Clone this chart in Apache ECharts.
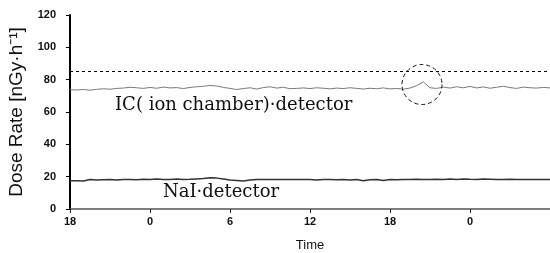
<!DOCTYPE html>
<html>
<head>
<meta charset="utf-8">
<script src="https://cdn.jsdelivr.net/npm/echarts@6/dist/echarts.min.js"></script>
<style>
  html, body { margin: 0; padding: 0; background: #fff; }
  #chart { width: 550px; height: 253px; }
</style>
</head>
<body>
<div id="chart"></div>
<script>
// hours since 18:00 on day 1, one reading every half hour
var hours = [];
for (var i = 0; i <= 72; i++) hours.push(i * 0.5);

var icRate = [
  73.8, 73.6, 73.9, 73.5, 74.0, 74.4, 74.1, 74.6, 74.8, 75.3,
  75.0, 74.6, 75.2, 74.7, 75.4, 74.9, 75.1, 74.5, 75.2, 75.6,
  75.9, 76.4, 76.1, 75.2, 74.6, 73.9, 74.5, 75.0, 74.2, 75.1,
  75.6, 74.8, 75.3, 74.4, 74.6, 74.9, 74.5, 75.0, 74.7, 74.3,
  74.8, 74.5, 75.0, 74.6, 74.2, 74.7, 74.4, 74.9, 74.3, 74.6,
  74.1, 74.8, 76.3, 78.6, 75.0, 74.6, 75.4, 74.8, 75.6, 75.0,
  75.8, 74.9, 75.5, 74.7, 75.3, 75.9, 75.1, 74.6, 75.4, 75.0,
  74.8, 75.2, 74.9
];

var naiRate = [
  17.4, 17.5, 17.3, 18.3, 17.9, 18.1, 18.2, 18.0, 18.3, 18.2,
  18.1, 18.4, 18.2, 18.6, 18.3, 18.2, 18.5, 18.3, 18.4, 18.6,
  18.8, 19.4, 19.1, 18.5, 17.9, 17.7, 17.3, 17.9, 18.2, 18.3,
  18.3, 18.3, 18.2, 18.3, 18.3, 18.2, 18.2, 18.0, 18.3, 18.2,
  18.1, 18.3, 17.9, 18.2, 17.5, 18.1, 18.2, 17.6, 18.2, 18.1,
  18.3, 18.2, 18.4, 18.3, 18.2, 18.4, 18.3, 18.5, 18.2, 18.6,
  18.4, 18.3, 18.5, 18.4, 18.3, 18.2, 18.4, 18.3, 18.2, 18.3,
  18.2, 18.3, 18.3
];

var thresholdLevel = 85;
var peakMark = [26.4, 77];   // circled spike on the IC trace
var startHour = 18;

function pairs(ys) {
  return hours.map(function (h, k) { return [h, ys[k]]; });
}

var chart = echarts.init(document.getElementById("chart"));
chart.setOption({
  animation: false,
  grid: { left: 70, right: 0, top: 15, bottom: 44, outerBoundsMode: "none" },
  xAxis: {
    type: "value",
    min: 0,
    max: 36,
    interval: 6,
    name: "Time",
    nameLocation: "middle",
    nameGap: 30,
    nameTextStyle: { color: "#111", fontSize: 13, fontFamily: "Liberation Sans" },
    axisLine: { lineStyle: { color: "#555", width: 1.5 } },
    axisTick: { length: 4, lineStyle: { color: "#222" } },
    axisLabel: {
      color: "#111",
      fontSize: 11,
      fontWeight: "bold",
      fontFamily: "Liberation Sans",
      margin: 7,
      formatter: function (v) {
        if (v >= 36) return "";
        return String((startHour + v) % 24);
      }
    },
    splitLine: { show: false }
  },
  yAxis: {
    type: "value",
    min: 0,
    max: 120,
    interval: 20,
    name: "Dose Rate [nGy\u00b7h\u207b\u00b9]",
    nameLocation: "middle",
    nameRotate: 90,
    nameGap: 44,
    nameTextStyle: { color: "#111", fontSize: 19, fontFamily: "Liberation Sans" },
    axisLine: { show: true, lineStyle: { color: "#000", width: 2 } },
    axisTick: { show: true, length: 4, lineStyle: { color: "#000" } },
    axisLabel: {
      color: "#111",
      fontSize: 11,
      fontWeight: "bold",
      fontFamily: "Liberation Sans",
      margin: 14
    },
    splitLine: { show: false }
  },
  series: [
    {
      name: "IC",
      type: "line",
      data: pairs(icRate),
      showSymbol: false,
      lineStyle: { color: "#7a7a7a", width: 1 },
      markLine: {
        silent: true,
        symbol: ["none", "none"],
        label: { show: false },
        lineStyle: { color: "#000", type: [3, 3], width: 1 },
        data: [{ yAxis: thresholdLevel }]
      },
      markPoint: {
        silent: true,
        symbol: "circle",
        symbolSize: 40,
        label: { show: false },
        itemStyle: { color: "rgba(0,0,0,0)", borderColor: "#111", borderWidth: 1, borderType: [4, 3] },
        data: [{ coord: peakMark }]
      }
    },
    {
      name: "NaI",
      type: "line",
      data: pairs(naiRate),
      showSymbol: false,
      lineStyle: { color: "#333", width: 1.5 }
    }
  ],
  graphic: [
    {
      type: "text",
      left: 115,
      top: 96,
      style: { text: "IC( ion chamber)\u00b7detector", fill: "#111", font: "18px 'DejaVu Serif'" }
    },
    {
      type: "text",
      left: 163,
      top: 183,
      style: { text: "NaI\u00b7detector", fill: "#111", font: "18px 'DejaVu Serif'" }
    }
  ]
});
</script>
</body>
</html>
